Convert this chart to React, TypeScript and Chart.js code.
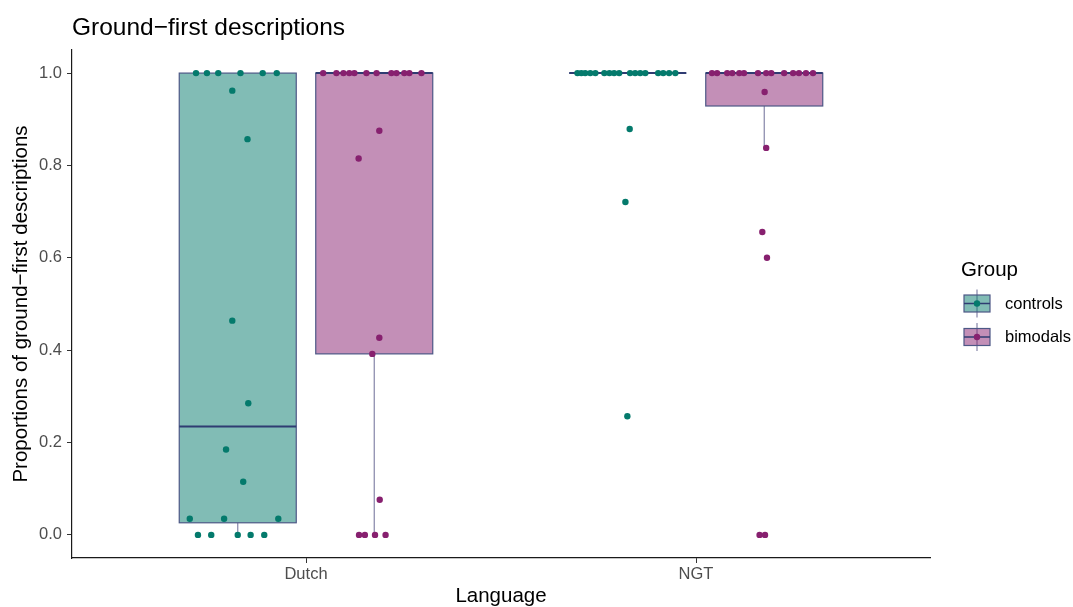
import React, { useEffect, useRef } from 'react';
import { Chart, registerables } from 'chart.js';

Chart.register(...registerables);

// ---------- data ----------
const chartTitle = 'Ground\u2212first descriptions';
const xTitle = 'Language';
const yTitle = 'Proportions of ground\u2212first descriptions';
const legendTitle = 'Group';

const categories = ['Dutch', 'NGT'];
const groupNames = ['controls', 'bimodals'];
const yTickValues = [0, 0.2, 0.4, 0.6, 0.8, 1.0];

const dutchControls = [1, 1, 1, 1, 1, 1, 0.962, 0.857, 0.464, 0.285, 0.185, 0.115, 0.035, 0.035, 0.035, 0, 0, 0, 0, 0];
const dutchControlsJitter = [-0.107, -0.079, -0.05, 0.007, 0.064, 0.1, -0.014, 0.025, -0.014, 0.027, -0.03, 0.014, -0.123, -0.035, 0.104, -0.102, -0.068, 0.0, 0.033, 0.068];

const dutchBimodals = [1, 1, 1, 1, 1, 1, 1, 1, 1, 1, 1, 1, 0.875, 0.815, 0.427, 0.392, 0.076, 0, 0, 0, 0];
const dutchBimodalsJitter = [-0.131, -0.097, -0.079, -0.064, -0.051, -0.02, 0.006, 0.044, 0.057, 0.077, 0.09, 0.121, 0.013, -0.04, 0.013, -0.005, 0.014, -0.039, -0.024, 0.002, 0.029];

const ngtControls = [1, 1, 1, 1, 1, 1, 1, 1, 1, 1, 1, 1, 1, 1, 1, 1, 1, 0.879, 0.721, 0.257];
const ngtControlsJitter = [-0.129, -0.119, -0.109, -0.096, -0.083, -0.06, -0.047, -0.035, -0.022, 0.006, 0.019, 0.032, 0.045, 0.078, 0.091, 0.106, 0.122, 0.005, -0.006, -0.001];

const ngtBimodals = [1, 1, 1, 1, 1, 1, 1, 1, 1, 1, 1, 1, 1, 1, 0.959, 0.838, 0.656, 0.6, 0, 0];
const ngtBimodalsJitter = [-0.134, -0.121, -0.095, -0.082, -0.064, -0.052, -0.016, 0.005, 0.018, 0.051, 0.074, 0.089, 0.107, 0.125, 0.001, 0.005, -0.005, 0.007, -0.012, 0.002];

// [group][category]
const seriesValues = [
  [dutchControls, ngtControls],
  [dutchBimodals, ngtBimodals],
];
const seriesJitter = [
  [dutchControlsJitter, ngtControlsJitter],
  [dutchBimodalsJitter, ngtBimodalsJitter],
];

// ---------- styles ----------
const FONT = "'Liberation Sans', Arial, Helvetica, sans-serif";
const DODGE = [-0.175, 0.175];
const BOX_W = 0.3;
const POINT_COLORS = ['#047a6c', '#87206f'];
const BOX_FILLS = ['rgba(4,122,108,0.5)', 'rgba(135,32,111,0.5)'];
const OUTLINE = '#4d5886';
const WHISKER = '#8585a8';
const MEDIAN = '#2f3c72';

function quantile(s: number[], p: number) {
  const h = (s.length - 1) * p;
  const lo = Math.floor(h);
  const hi = Math.ceil(h);
  return s[lo] + (h - lo) * (s[hi] - s[lo]);
}

function boxStats(vals: number[]) {
  const s = [...vals].sort((a, b) => a - b);
  const q1 = quantile(s, 0.25);
  const med = quantile(s, 0.5);
  const q3 = quantile(s, 0.75);
  const iqr = q3 - q1;
  const lo = Math.min(...s.filter((v) => v >= q1 - 1.5 * iqr - 1e-9));
  const hi = Math.max(...s.filter((v) => v <= q3 + 1.5 * iqr + 1e-9));
  return { q1, med, q3, lo, hi };
}

function drawKey(ctx: CanvasRenderingContext2D, cx: number, cy: number, g: number) {
  const w = 26;
  const h = 17;
  ctx.strokeStyle = WHISKER;
  ctx.lineWidth = 1.2;
  ctx.beginPath();
  ctx.moveTo(cx, cy - 14);
  ctx.lineTo(cx, cy + 14);
  ctx.stroke();
  ctx.fillStyle = BOX_FILLS[g];
  ctx.fillRect(cx - w / 2, cy - h / 2, w, h);
  ctx.strokeStyle = OUTLINE;
  ctx.strokeRect(cx - w / 2, cy - h / 2, w, h);
  ctx.strokeStyle = MEDIAN;
  ctx.lineWidth = 1.5;
  ctx.beginPath();
  ctx.moveTo(cx - w / 2, cy);
  ctx.lineTo(cx + w / 2, cy);
  ctx.stroke();
  ctx.fillStyle = POINT_COLORS[g];
  ctx.beginPath();
  ctx.arc(cx, cy, 3.2, 0, Math.PI * 2);
  ctx.fill();
}

const boxPlugin = {
  id: 'boxes',
  beforeDatasetsDraw(chart: any) {
    const { ctx, scales } = chart;
    const x = scales.x;
    const y = scales.y;
    ctx.save();
    seriesValues.forEach((perCat, g) => {
      perCat.forEach((vals, c) => {
        const st = boxStats(vals);
        const xc = c + 1 + DODGE[g];
        const px = x.getPixelForValue(xc);
        const l = x.getPixelForValue(xc - BOX_W / 2);
        const r = x.getPixelForValue(xc + BOX_W / 2);
        const yq1 = y.getPixelForValue(st.q1);
        const yq3 = y.getPixelForValue(st.q3);
        const ymed = y.getPixelForValue(st.med);
        const ylo = y.getPixelForValue(st.lo);
        const yhi = y.getPixelForValue(st.hi);
        ctx.strokeStyle = WHISKER;
        ctx.lineWidth = 1.2;
        ctx.beginPath();
        ctx.moveTo(px, yq1);
        ctx.lineTo(px, ylo);
        ctx.moveTo(px, yq3);
        ctx.lineTo(px, yhi);
        ctx.stroke();
        ctx.fillStyle = BOX_FILLS[g];
        ctx.fillRect(l, yq3, r - l, yq1 - yq3);
        ctx.strokeStyle = OUTLINE;
        ctx.lineWidth = 1.2;
        ctx.strokeRect(l, yq3, r - l, yq1 - yq3);
        ctx.strokeStyle = MEDIAN;
        ctx.lineWidth = 2;
        ctx.beginPath();
        ctx.moveTo(l, ymed);
        ctx.lineTo(r, ymed);
        ctx.stroke();
      });
    });
    ctx.restore();
  },
  afterDraw(chart: any) {
    const { ctx } = chart;
    ctx.save();
    // title
    ctx.fillStyle = '#000';
    ctx.font = `24.5px ${FONT}`;
    ctx.textAlign = 'left';
    ctx.textBaseline = 'alphabetic';
    ctx.fillText(chartTitle, 72, 35);
    // legend
    ctx.font = `20.5px ${FONT}`;
    ctx.fillText(legendTitle, 961, 276);
    ctx.font = `16.5px ${FONT}`;
    ctx.textBaseline = 'middle';
    groupNames.forEach((name, g) => {
      const cy = 303.5 + g * 33.5;
      drawKey(ctx, 977, cy, g);
      ctx.fillStyle = '#000';
      ctx.fillText(name, 1005, cy + 0.5);
    });
    ctx.restore();
  },
};

export default function App() {
  const ref = useRef<HTMLCanvasElement>(null);

  useEffect(() => {
    document.body.style.margin = '0';
    const datasets = groupNames.map((name, g) => ({
      label: name,
      data: seriesValues[g].flatMap((vals, c) =>
        vals.map((v, i) => ({ x: c + 1 + DODGE[g] + seriesJitter[g][c][i], y: v }))
      ),
      backgroundColor: POINT_COLORS[g],
      borderWidth: 0,
      pointRadius: 3.2,
      pointHoverRadius: 3.2,
      showLine: false,
    }));

    const chart = new Chart(ref.current as HTMLCanvasElement, {
      type: 'scatter',
      data: { datasets },
      plugins: [boxPlugin],
      options: {
        animation: false,
        responsive: false,
        devicePixelRatio: 1,
        layout: { padding: { left: 0, right: 143, top: 50, bottom: 0 } },
        plugins: {
          legend: { display: false },
          tooltip: { enabled: false },
          title: { display: false },
        },
        scales: {
          x: {
            type: 'linear',
            min: 0.4,
            max: 2.6,
            afterBuildTicks: (scale: any) => {
              scale.ticks = categories.map((_, i) => ({ value: i + 1 }));
            },
            afterFit: (scale: any) => {
              scale.height = 49;
            },
            grid: {
              display: true,
              drawOnChartArea: false,
              drawTicks: true,
              tickLength: 5,
              color: '#333333',
              lineWidth: 1,
            },
            border: { display: true, color: '#1a1a1a', width: 1.2 },
            ticks: {
              autoSkip: false,
              maxRotation: 0,
              padding: 2,
              color: '#4d4d4d',
              font: { family: FONT, size: 16.5 },
              callback: (_v: any, i: number) => categories[i],
            },
            title: {
              display: true,
              text: xTitle,
              color: '#000',
              font: { family: FONT, size: 20.5, lineHeight: 1 },
              padding: { top: 0, bottom: 0 },
            },
          },
          y: {
            type: 'linear',
            min: -0.05,
            max: 1.05,
            afterBuildTicks: (scale: any) => {
              scale.ticks = yTickValues.map((v) => ({ value: v }));
            },
            afterFit: (scale: any) => {
              scale.width = 72;
            },
            grid: {
              display: true,
              drawOnChartArea: false,
              drawTicks: true,
              tickLength: 5,
              color: '#333333',
              lineWidth: 1,
            },
            border: { display: true, color: '#1a1a1a', width: 1.2 },
            ticks: {
              padding: 5,
              color: '#4d4d4d',
              font: { family: FONT, size: 16.5 },
              callback: (v: any) => Number(v).toFixed(1),
            },
            title: {
              display: true,
              text: yTitle,
              color: '#000',
              font: { family: FONT, size: 20.5, lineHeight: 1.2 },
              padding: { top: 9, bottom: 0 },
            },
          },
        },
      },
    } as any);
    return () => chart.destroy();
  }, []);

  return (
    <div style={{ width: 1073, height: 607, position: 'relative' }}>
      <canvas ref={ref} width={1073} height={607} style={{ display: 'block', width: 1073, height: 607 }} />
    </div>
  );
}
